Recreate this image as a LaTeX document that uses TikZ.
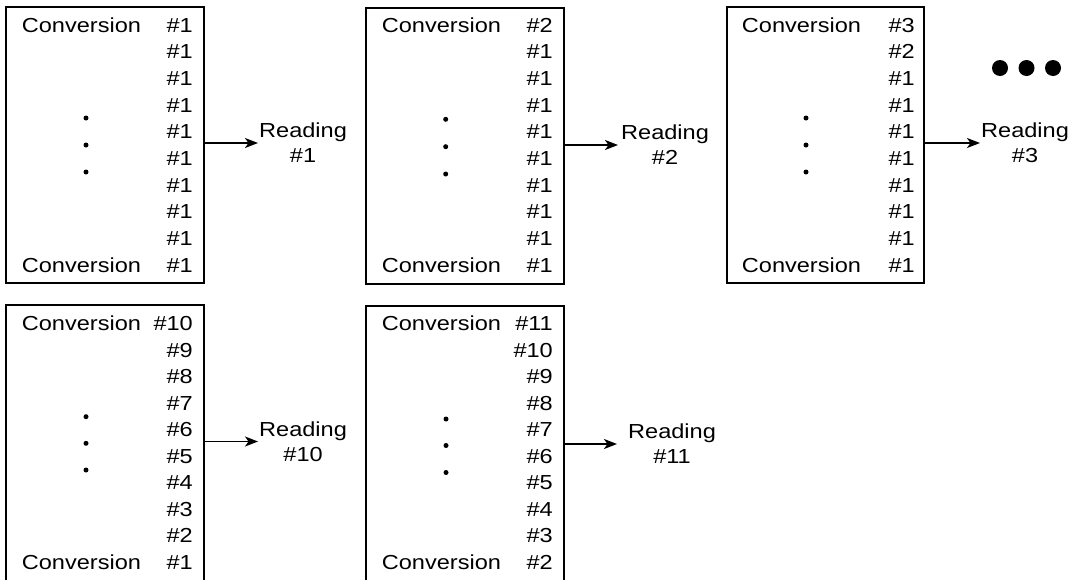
\documentclass[tikz,border=0pt]{standalone}
\usepackage{fontspec}
\newfontfamily\diagfont{Liberation Sans}[FakeStretch=1.16]
\usetikzlibrary{arrows.meta}
\tikzset{
  box/.style={draw=black, line width=1.9pt, rectangle, inner sep=0pt},
  openbox/.style={rectangle, inner sep=0pt},
  boxline/.style={line width=1.9pt},
  txt/.style={inner sep=0pt, font=\diagfont\fontsize{20.3}{25}\selectfont, text=black},
  num/.style={txt, anchor=base east},
  conv/.style={txt, anchor=base west},
  reading/.style={txt, align=center, anchor=west},
  arr/.style={line width=1.8pt, -{Stealth[length=13pt,width=10pt,inset=3.5pt]}},
  vdot/.style={fill=black},
}
\begin{document}
\begin{tikzpicture}[x=1pt,y=-1pt]
\useasboundingbox (0,0) rectangle (1079,579);
% ---------- top row boxes ----------
\node[box, minimum width=198pt, minimum height=276pt] (b1) at (105,145) {};
\node[box, minimum width=198pt, minimum height=276pt] (b2) at (465,146) {};
\node[box, minimum width=197pt, minimum height=276pt] (b3) at (825.5,145) {};
% ---------- bottom row boxes (open at bottom) ----------
\node[openbox, minimum width=198pt, minimum height=276pt] (b4) at (105,443) {};
\node[openbox, minimum width=198pt, minimum height=276pt] (b5) at (465,444) {};
\draw[boxline] (b4.south west) -- (b4.north west) -- (b4.north east) -- (b4.south east);
\draw[boxline] (b5.south west) -- (b5.north west) -- (b5.north east) -- (b5.south east);

% ---------- box 1 ----------
\node[conv] (c1a) at (21.7,32) {Conversion};
\node[conv] (c1b) at (21.7,272) {Conversion};
\foreach \n [count=\i from 0] in {1,1,1,1,1,1,1,1,1,1}
  \node[num] (n1-\i) at (193,{32+26.67*\i}) {\#\n};
% ---------- box 2 ----------
\node[conv] (c2a) at (381.7,32) {Conversion};
\node[conv] (c2b) at (381.7,272) {Conversion};
\foreach \n [count=\i from 0] in {2,1,1,1,1,1,1,1,1,1}
  \node[num] (n2-\i) at (553,{32+26.67*\i}) {\#\n};
% ---------- box 3 ----------
\node[conv] (c3a) at (741.7,32) {Conversion};
\node[conv] (c3b) at (741.7,272) {Conversion};
\foreach \n [count=\i from 0] in {3,2,1,1,1,1,1,1,1,1}
  \node[num] (n3-\i) at (915,{32+26.67*\i}) {\#\n};
% ---------- box 4 ----------
\node[conv] (c4a) at (21.7,330.5) {Conversion};
\node[conv] (c4b) at (21.7,569.5) {Conversion};
\foreach \n [count=\i from 0] in {10,9,8,7,6,5,4,3,2,1}
  \node[num] (n4-\i) at (193,{330.5+26.55*\i}) {\#\n};
% ---------- box 5 ----------
\node[conv] (c5a) at (381.7,330.5) {Conversion};
\node[conv] (c5b) at (381.7,569.5) {Conversion};
\foreach \n [count=\i from 0] in {11,10,9,8,7,6,5,4,3,2}
  \node[num] (n5-\i) at (553,{330.5+26.55*\i}) {\#\n};

% ---------- vertical dots ----------
\foreach \y in {118,145,172} \fill[vdot] (86,\y) circle (2.5pt);
\foreach \y in {119.3,146.7,174} \fill[vdot] (445.7,\y) circle (2.5pt);
\foreach \y in {118,145,172} \fill[vdot] (806,\y) circle (2.5pt);
\foreach \y in {416.7,443.3,470} \fill[vdot] (86,\y) circle (2.5pt);
\foreach \y in {419,445.5,472.5} \fill[vdot] (446,\y) circle (2.5pt);

% ---------- big ellipsis ----------
\foreach \x in {1000,1026.5,1053} \fill[vdot] (\x,68) circle (8pt);

% ---------- readings ----------
\node[reading] (r1) at (259,143) {Reading\\\#1};
\node[reading] (r2) at (621,145) {Reading\\\#2};
\node[reading] (r3) at (981,143) {Reading\\\#3};
\node[reading] (r4) at (259,441.5) {Reading\\\#10};
\node[reading] (r5) at (628,444) {Reading\\\#11};

% ---------- arrows ----------
\draw[arr] (r1.west -| b1.east) -- ([xshift=-1pt]r1.west);
\draw[arr] (r2.west -| b2.east) -- ([xshift=-3pt]r2.west);
\draw[arr] (r3.west -| b3.east) -- ([xshift=-1pt]r3.west);
\draw[arr] (r4.west -| b4.east) -- ([xshift=-1pt]r4.west);
\draw[arr] (r5.west -| b5.east) -- ([xshift=-11pt]r5.west);
\end{tikzpicture}
\end{document}
